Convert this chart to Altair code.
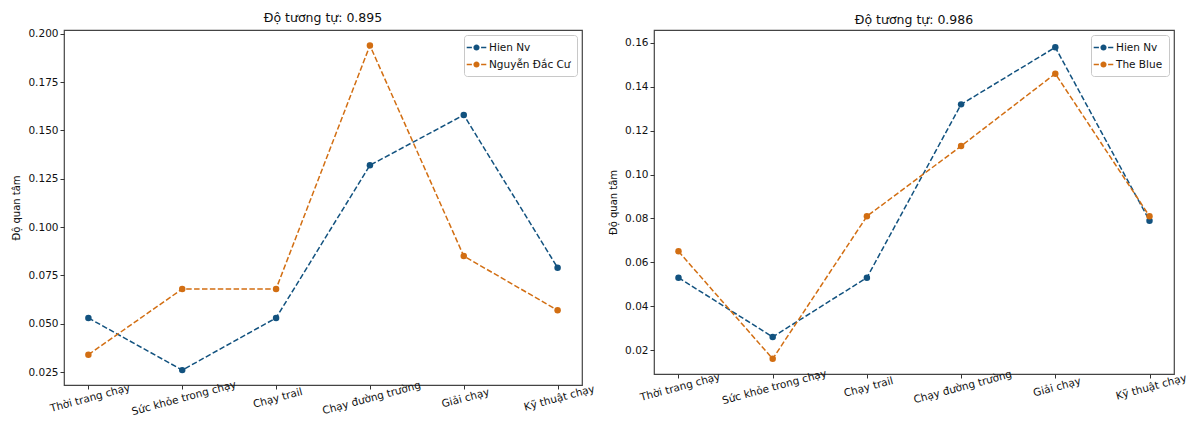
import altair as alt
import pandas as pd

categories = ["Thời trang chạy", "Sức khỏe trong chạy", "Chạy trail",
              "Chạy đường trường", "Giải chạy", "Kỹ thuật chạy"]

hien_nv = [0.053, 0.026, 0.053, 0.132, 0.158, 0.079]
nguyen_dac_cu = [0.034, 0.068, 0.068, 0.194, 0.085, 0.057]
the_blue = [0.065, 0.016, 0.081, 0.113, 0.146, 0.081]

left_title = "Độ tương tự: 0.895"
right_title = "Độ tương tự: 0.986"
y_title = "Độ quan tâm"

left_ticks = [0.025, 0.050, 0.075, 0.100, 0.125, 0.150, 0.175, 0.200]
right_ticks = [0.02, 0.04, 0.06, 0.08, 0.10, 0.12, 0.14, 0.16]

SERIES_COLORS = ["#12527f", "#d26e12"]
FONT = "DejaVu Sans"

LEG_PATH = ("M-1.6,-0.12H-0.75V0.12H-1.6Z"
            "M0.75,-0.12H1.6V0.12H0.75Z"
            "M-0.5,0A0.5,0.5 0 1,0 0.5,0A0.5,0.5 0 1,0 -0.5,0Z")


def panel(other_name, other_vals, title, domain, ticks, fmt, w, h):
    names = ["Hien Nv", other_name]
    rows = []
    for i, c in enumerate(categories):
        for s, v in ((names[0], hien_nv[i]), (names[1], other_vals[i])):
            rows.append({"cat": c, "series": s, "val": v, "o": i})
    df = pd.DataFrame(rows)

    x = alt.X("cat:N", sort=categories, title=None,
              scale=alt.Scale(type="point", padding=0.26),
              axis=alt.Axis(labelAngle=-15, labelAlign="center", labelBaseline="top",
                            labelFontSize=10.5, labelColor="#111", labelFont=FONT,
                            tickColor="#333", domain=False, labelPadding=4, tickSize=4))
    y = alt.Y("val:Q", title=y_title,
              scale=alt.Scale(domain=domain, nice=False, zero=False),
              axis=alt.Axis(values=ticks, format=fmt, grid=False, labelFontSize=10.5,
                            labelColor="#111", labelFont=FONT, tickColor="#333",
                            domain=False, tickSize=4, titleFont=FONT, titleFontSize=10,
                            titleFontWeight="normal", titleColor="#111", titlePadding=6))

    leg = alt.Legend(title="", orient="top-right", offset=5,
                     symbolType=LEG_PATH, symbolSize=150,
                     symbolStrokeWidth=0, labelFontSize=10.5, labelFont=FONT,
                     labelColor="#111", fillColor="white",
                     strokeColor="#c8c8c8", cornerRadius=3,
                     padding=6, rowPadding=5, labelOffset=6)

    cscale = alt.Scale(domain=names, range=SERIES_COLORS)
    line = alt.Chart(df).mark_line(strokeDash=[5.5, 2.4], strokeWidth=1.5).encode(
        x=x, y=y, color=alt.Color("series:N", scale=cscale, legend=leg),
        order="o:Q",
    )
    pts = alt.Chart(df).mark_circle(size=42, opacity=1).encode(
        x=x, y=y, color=alt.Color("series:N", scale=cscale, legend=leg),
    )
    return alt.layer(line, pts).properties(
        width=w, height=h,
        title=alt.TitleParams(title, font=FONT, fontSize=12.5, fontWeight="normal",
                              color="#111", offset=4),
    )


left = panel("Nguyễn Đắc Cư", nguyen_dac_cu, left_title, [0.0183, 0.202],
             left_ticks, ".3f", 518, 355)
right = panel("The Blue", the_blue, right_title, [0.0091, 0.1659],
              right_ticks, ".2f", 520, 344)

chart = alt.hconcat(left, right, spacing=11).resolve_scale(
    color="independent"
).configure(
    background="white", padding={"left": 3, "top": 3, "right": 0, "bottom": 0},
    view=alt.ViewConfig(stroke="#444", strokeWidth=1.2),
)

chart.save("out.html", embed_options={"renderer": "svg", "actions": False})
